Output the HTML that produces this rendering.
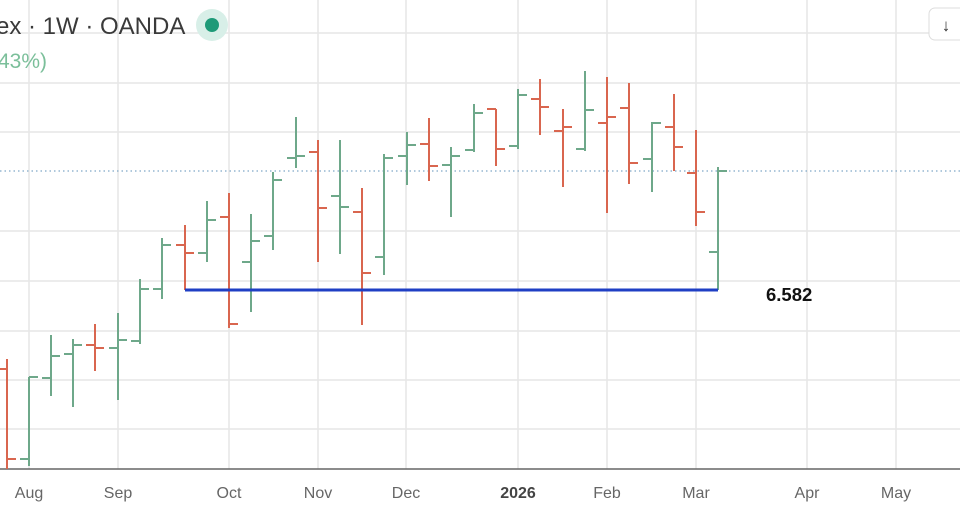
<!DOCTYPE html>
<html><head><meta charset="utf-8"><style>
html,body{margin:0;padding:0;background:#fff;}
body{width:960px;height:513px;overflow:hidden;position:relative;font-family:"Liberation Sans",sans-serif;}
</style></head><body>
<svg width="960" height="513" style="position:absolute;left:0;top:0">
<g stroke="#e6e6e6" stroke-width="1.5">
<line x1="0" y1="33" x2="960" y2="33"/><line x1="0" y1="83" x2="960" y2="83"/><line x1="0" y1="132" x2="960" y2="132"/>
<line x1="0" y1="231" x2="960" y2="231"/><line x1="0" y1="281" x2="960" y2="281"/><line x1="0" y1="331" x2="960" y2="331"/>
<line x1="0" y1="380" x2="960" y2="380"/><line x1="0" y1="429" x2="960" y2="429"/>
<line x1="29" y1="0" x2="29" y2="469"/><line x1="118" y1="0" x2="118" y2="469"/><line x1="229" y1="0" x2="229" y2="469"/>
<line x1="318" y1="0" x2="318" y2="469"/><line x1="406" y1="0" x2="406" y2="469"/><line x1="518" y1="0" x2="518" y2="469"/>
<line x1="607" y1="0" x2="607" y2="469"/><line x1="696" y1="0" x2="696" y2="469"/><line x1="807" y1="0" x2="807" y2="469"/>
<line x1="896" y1="0" x2="896" y2="469"/>
</g>
<line x1="0" y1="171" x2="960" y2="171" stroke="#7fa8c8" stroke-width="1.3" stroke-dasharray="1.5,3"/>
<line x1="0" y1="469" x2="960" y2="469" stroke="#666" stroke-width="1.5"/>
<g id="bars" stroke-width="2"></g>
<line x1="185" y1="290" x2="718" y2="290" stroke="#1f3fc4" stroke-width="3"/>
<text x="766" y="301" font-size="18.5" font-weight="bold" fill="#111">6.582</text>
<g font-size="16" fill="#666" text-anchor="middle">
<text x="29" y="498">Aug</text><text x="118" y="498">Sep</text><text x="229" y="498">Oct</text><text x="318" y="498">Nov</text>
<text x="406" y="498">Dec</text><text x="518" y="498" font-weight="bold" fill="#444">2026</text><text x="607" y="498">Feb</text>
<text x="696" y="498">Mar</text><text x="807" y="498">Apr</text><text x="896" y="498">May</text>
</g>
<text x="-4" y="34" font-size="24" fill="#3a3a3a">ex · 1W · OANDA</text>
<circle cx="212" cy="25" r="16" fill="#d8efe8"/><circle cx="212" cy="25" r="7" fill="#1e9a78"/>
<text x="-2" y="68" font-size="21" fill="#7bbf9a">43%)</text>
<rect x="929" y="8" width="42" height="32" rx="6" fill="#fff" stroke="#ddd"/>
<text x="946" y="31" font-size="17" fill="#333" text-anchor="middle">↓</text>
</svg>
<script>
var d=[[7,359,469,369,459,'r'],[29,377,466,459,377,'g'],[51,335,396,378,356,'g'],[73,339,407,354,345,'g'],[95,324,371,345,348,'r'],
[118,313,400,348,340,'g'],[140,279,344,341,289,'g'],[162,238,299,289,245,'g'],[185,225,290,245,253,'r'],[207,201,262,253,220,'g'],
[229,193,328,217,324,'r'],[251,214,312,262,241,'g'],[273,172,250,236,180,'g'],[296,117,168,158,156,'g'],[318,140,262,152,208,'r'],
[340,140,254,196,207,'g'],[362,188,325,212,273,'r'],[384,154,275,257,158,'g'],[407,132,185,156,145,'g'],[429,118,181,144,166,'r'],
[451,147,217,165,156,'g'],[474,104,152,150,113,'g'],[496,109,166,109,149,'r'],[518,89,149,146,95,'g'],[540,79,135,99,107,'r'],
[563,109,187,131,127,'r'],[585,71,151,149,110,'g'],[607,77,213,123,117,'r'],[629,83,184,108,163,'r'],[652,122,192,159,123,'g'],
[674,94,171,127,147,'r'],[696,130,226,173,212,'r'],[718,167,290,252,171,'g']];
var s='';d.forEach(function(b){var c=b[5]=='r'?'#d9664f':'#6ea88a';
s+='<line x1="'+b[0]+'" y1="'+b[1]+'" x2="'+b[0]+'" y2="'+b[2]+'" stroke="'+c+'"/>';
s+='<line x1="'+(b[0]-9)+'" y1="'+b[3]+'" x2="'+b[0]+'" y2="'+b[3]+'" stroke="'+c+'"/>';
s+='<line x1="'+b[0]+'" y1="'+b[4]+'" x2="'+(b[0]+9)+'" y2="'+b[4]+'" stroke="'+c+'"/>';});
document.getElementById('bars').innerHTML=s;
</script>
</body></html>
